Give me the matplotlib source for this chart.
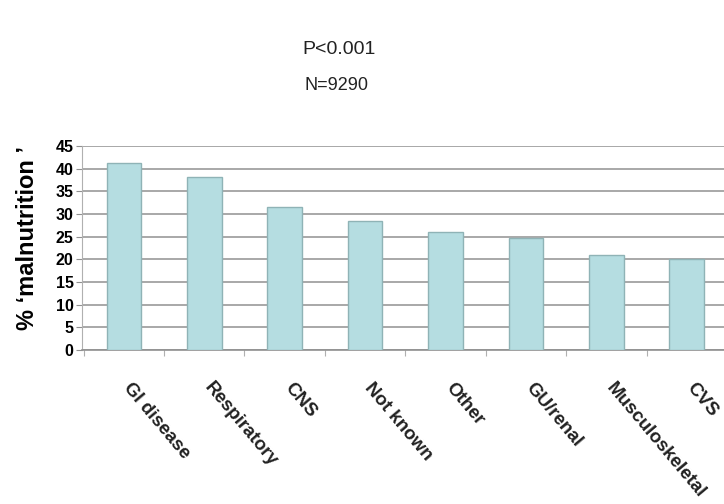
import matplotlib
matplotlib.use("Agg")
import matplotlib.pyplot as plt
import numpy as np

categories = ["GI disease", "Respiratory", "CNS", "Not known", "Other",
              "GU/renal", "Musculoskeletal", "CVS"]
values = [41.3, 38.2, 31.6, 28.5, 26.0, 24.7, 21.0, 20.1]
yticks = [0, 5, 10, 15, 20, 25, 30, 35, 40, 45]

plt.rcParams['font.family'] = ['Liberation Sans', 'DejaVu Sans']

fig = plt.figure(figsize=(7.24, 5.04), dpi=100)
ax = fig.add_axes([82/724, 1-350/504, 645/724, 204/504])

x = np.arange(len(categories))
ax.bar(x, values, width=0.43, color='#b5dde1', edgecolor='#8fb3b6', linewidth=1.0, zorder=3)

ax.set_xlim(-0.52, len(categories) - 0.52)
ax.set_ylim(0, 45)
ax.set_yticks(yticks)
ax.set_yticklabels([str(v) for v in yticks], fontsize=11.5, fontweight='bold')
ax.yaxis.grid(True, color='#a8a8a8', linewidth=1.4, zorder=0)
ax.set_axisbelow(True)

for s in ['top', 'right']:
    ax.spines[s].set_visible(False)
ax.spines['left'].set_color('#b0b0b0')
ax.spines['bottom'].set_color('#909090')
ax.spines['bottom'].set_linewidth(1.2)
ax.tick_params(axis='y', length=4, color='#909090', pad=2)

# category boundary ticks
ax.set_xticks(np.arange(len(categories) + 1) - 0.5, minor=False)
ax.set_xticklabels([])
ax.tick_params(axis='x', length=4, color='#b0b0b0', direction='out')

for xi, lab in zip(x, categories):
    ax.annotate(lab, xy=(xi, 0), xycoords='data', xytext=(2, -25),
                textcoords='offset points', rotation=-50, rotation_mode='anchor',
                ha='left', va='center', fontsize=13.5, fontweight='bold',
                color='#222222', annotation_clip=False)

ax.set_ylabel("% \u2018malnutrition \u2019", fontsize=17, fontweight='bold', labelpad=6)
ax.yaxis.set_label_coords(-0.066, 0.55)

fig.text(339/724, 1-50/504, "P<0.001", ha='center', va='center', fontsize=14, color='#222222')
fig.text(336/724, 1-85/504, "N=9290", ha='center', va='center', fontsize=13, color='#222222')

fig.savefig("out.png", dpi=100)
